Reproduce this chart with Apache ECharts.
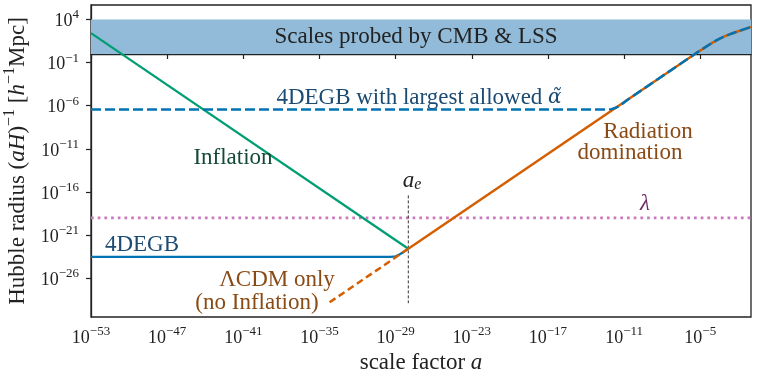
<!DOCTYPE html>
<html>
<head>
<meta charset="utf-8">
<script src="https://cdn.jsdelivr.net/npm/echarts@6/dist/echarts.min.js"></script>
<style>
html, body { margin: 0; padding: 0; background: #fff; }
#chart { width: 758px; height: 379px; }
</style>
</head>
<body>
<div id="chart"></div>
<script>
// every value below is log10 of what is plotted (log-log chart)
var xTickExps = [-53, -47, -41, -35, -29, -23, -17, -11, -5];
var yTickExps = [4, -1, -6, -11, -16, -21, -26];

var inflationLine = [[-53, 2.42], [-28, -22.58]];
var radiationLine = [[-28, -22.58], [-6, -0.58], [-5, 0.41], [-4, 1.35], [-3.5, 1.76], [-3, 2.09], [-2.5, 2.38], [-2, 2.64], [-1.5, 2.89], [-1, 3.14]];
var lcdmOnlyLine = [[-34.2, -28.8], [-28, -22.58]];
var degbLine = [[-53, -23.53], [-29.4, -23.53], [-29.0, -23.47], [-28.7, -23.25], [-28.4, -22.98], [-28, -22.58]];
var degbMaxHead = [[-53, -6.45], [-12.4, -6.45], [-12.0, -6.4], [-11.6, -6.2], [-11.2, -5.85], [-10.7, -5.28]];
var lambdaLine = [[-53, -19], [-1, -19]];
var aeLine = [[-28, -16.4], [-28, -28.9]];
var cmbBand = [0, 4];

var serif = '"Liberation Serif", "DejaVu Serif", serif';
var axisColor = '#222';

function powLabel(v) {
    var n = Math.round(v);
    return '{b|10}{s|' + (n < 0 ? '\u2212' : '') + Math.abs(n) + '}';
}
var tickRich = {
    b: { fontFamily: serif, fontSize: 18, color: axisColor, lineHeight: 22, verticalAlign: 'bottom' },
    s: { fontFamily: serif, fontSize: 13, color: axisColor, lineHeight: 14, verticalAlign: 'top' }
};
var nameRich = {
    n: { fontFamily: serif, fontSize: 23, color: axisColor, lineHeight: 28, verticalAlign: 'bottom' },
    i: { fontFamily: serif, fontSize: 23, fontStyle: 'italic', color: axisColor, lineHeight: 28, verticalAlign: 'bottom' },
    s: { fontFamily: serif, fontSize: 16, color: axisColor, lineHeight: 18, verticalAlign: 'top' }
};

function lineSeries(name, data, color, width, dash, z) {
    return {
        name: name, type: 'line', data: data, symbol: 'none', z: z,
        lineStyle: { color: color, width: width, type: dash || 'solid', cap: 'butt' },
        silent: true
    };
}

var series = [
    lineSeries('lambda', lambdaLine, '#cc78bc', 2.6, [2.7, 4], 3),
    lineSeries('ae', aeLine, '#333', 1, [3, 2], 4),
    lineSeries('4DEGB', degbLine, '#0173b2', 2.3, null, 5),
    lineSeries('Inflation', inflationLine, '#029e73', 2.3, null, 6),
    lineSeries('LCDM only', lcdmOnlyLine, '#d55e00', 2.5, [7, 4], 7),
    lineSeries('Radiation', radiationLine, '#d55e00', 2.5, null, 8),
    lineSeries('4DEGB max', degbMaxHead.concat(radiationLine.slice(1)), '#0173b2', 2.5, [10, 4], 9)
];
series[0].markArea = {
    silent: true,
    itemStyle: { color: '#91bbd9', opacity: 1 },
    data: [[{ yAxis: cmbBand[0] }, { yAxis: cmbBand[1] }]]
};

function txt(x, y, text, color, size, rich) {
    return {
        type: 'text', x: x, y: y, z: 20, silent: true,
        style: {
            text: text, fill: color, fontFamily: serif, fontSize: size || 23,
            align: 'center', verticalAlign: 'middle', rich: rich || {}
        }
    };
}

var brown = '#8a4a14';
var darkBlue = '#1b4a72';

var option = {
    animation: false,
    backgroundColor: '#fff',
    grid: {
        left: 91, right: 7, top: 5, bottom: 62,
        show: true, borderColor: axisColor, borderWidth: 1.3,
        outerBoundsMode: 'none'
    },
    xAxis: {
        type: 'value', min: -53, max: -1, interval: 6,
        name: '{n|scale factor }{i|a}', nameLocation: 'middle', nameGap: 29,
        nameTextStyle: { rich: nameRich },
        axisLine: { show: true, lineStyle: { color: axisColor, width: 1.3 } },
        axisTick: { show: true, length: 5, inside: false, customValues: xTickExps, lineStyle: { color: axisColor, width: 1.2 } },
        axisLabel: { margin: 8, customValues: xTickExps, formatter: powLabel, rich: tickRich },
        splitLine: { show: false }
    },
    yAxis: {
        type: 'value', min: -30.5, max: 5.68,
        name: '{n|Hubble radius (}{i|aH}{n|)}{s|\u22121}{n| [}{i|h}{s|\u22121}{n|Mpc]}',
        nameLocation: 'middle', nameGap: 60, nameRotate: 90,
        nameTextStyle: { rich: nameRich },
        axisLine: { show: true, lineStyle: { color: axisColor, width: 1.3 } },
        axisTick: { show: true, length: 5, inside: false, customValues: yTickExps, lineStyle: { color: axisColor, width: 1.2 } },
        axisLabel: { margin: 12, customValues: yTickExps, formatter: powLabel, rich: tickRich },
        splitLine: { show: false }
    },
    series: series,
    graphic: [
        txt(416, 37, 'Scales probed by CMB & LSS', '#222'),
        txt(419, 98, '4DEGB with largest allowed {i|\u03b1\u0303}', darkBlue, 23,
            { i: { fontFamily: '"DejaVu Serif"', fontSize: 20, fontStyle: 'italic', fill: darkBlue } }),
        txt(233, 158, 'Inflation', '#124a36'),
        txt(648, 132, 'Radiation', brown),
        txt(630, 153, 'domination', brown),
        txt(645, 204, '{i|\u03bb}', '#6e2c66', 23,
            { i: { fontFamily: serif, fontSize: 23, fontStyle: 'italic', fill: '#6e2c66' } }),
        txt(412, 181, '{i|a}{u|e}', '#222', 23, {
            i: { fontFamily: serif, fontSize: 23, fontStyle: 'italic', fill: '#222', lineHeight: 24, verticalAlign: 'top' },
            u: { fontFamily: serif, fontSize: 16, fontStyle: 'italic', fill: '#222', lineHeight: 16, verticalAlign: 'bottom' }
        }),
        txt(142, 245, '4DEGB', darkBlue),
        txt(277, 280, '\u039bCDM only', brown),
        txt(257, 303, '(no Inflation)', brown)
    ]
};

var myChart = echarts.init(document.getElementById('chart'));
myChart.setOption(option);
</script>
</body>
</html>
